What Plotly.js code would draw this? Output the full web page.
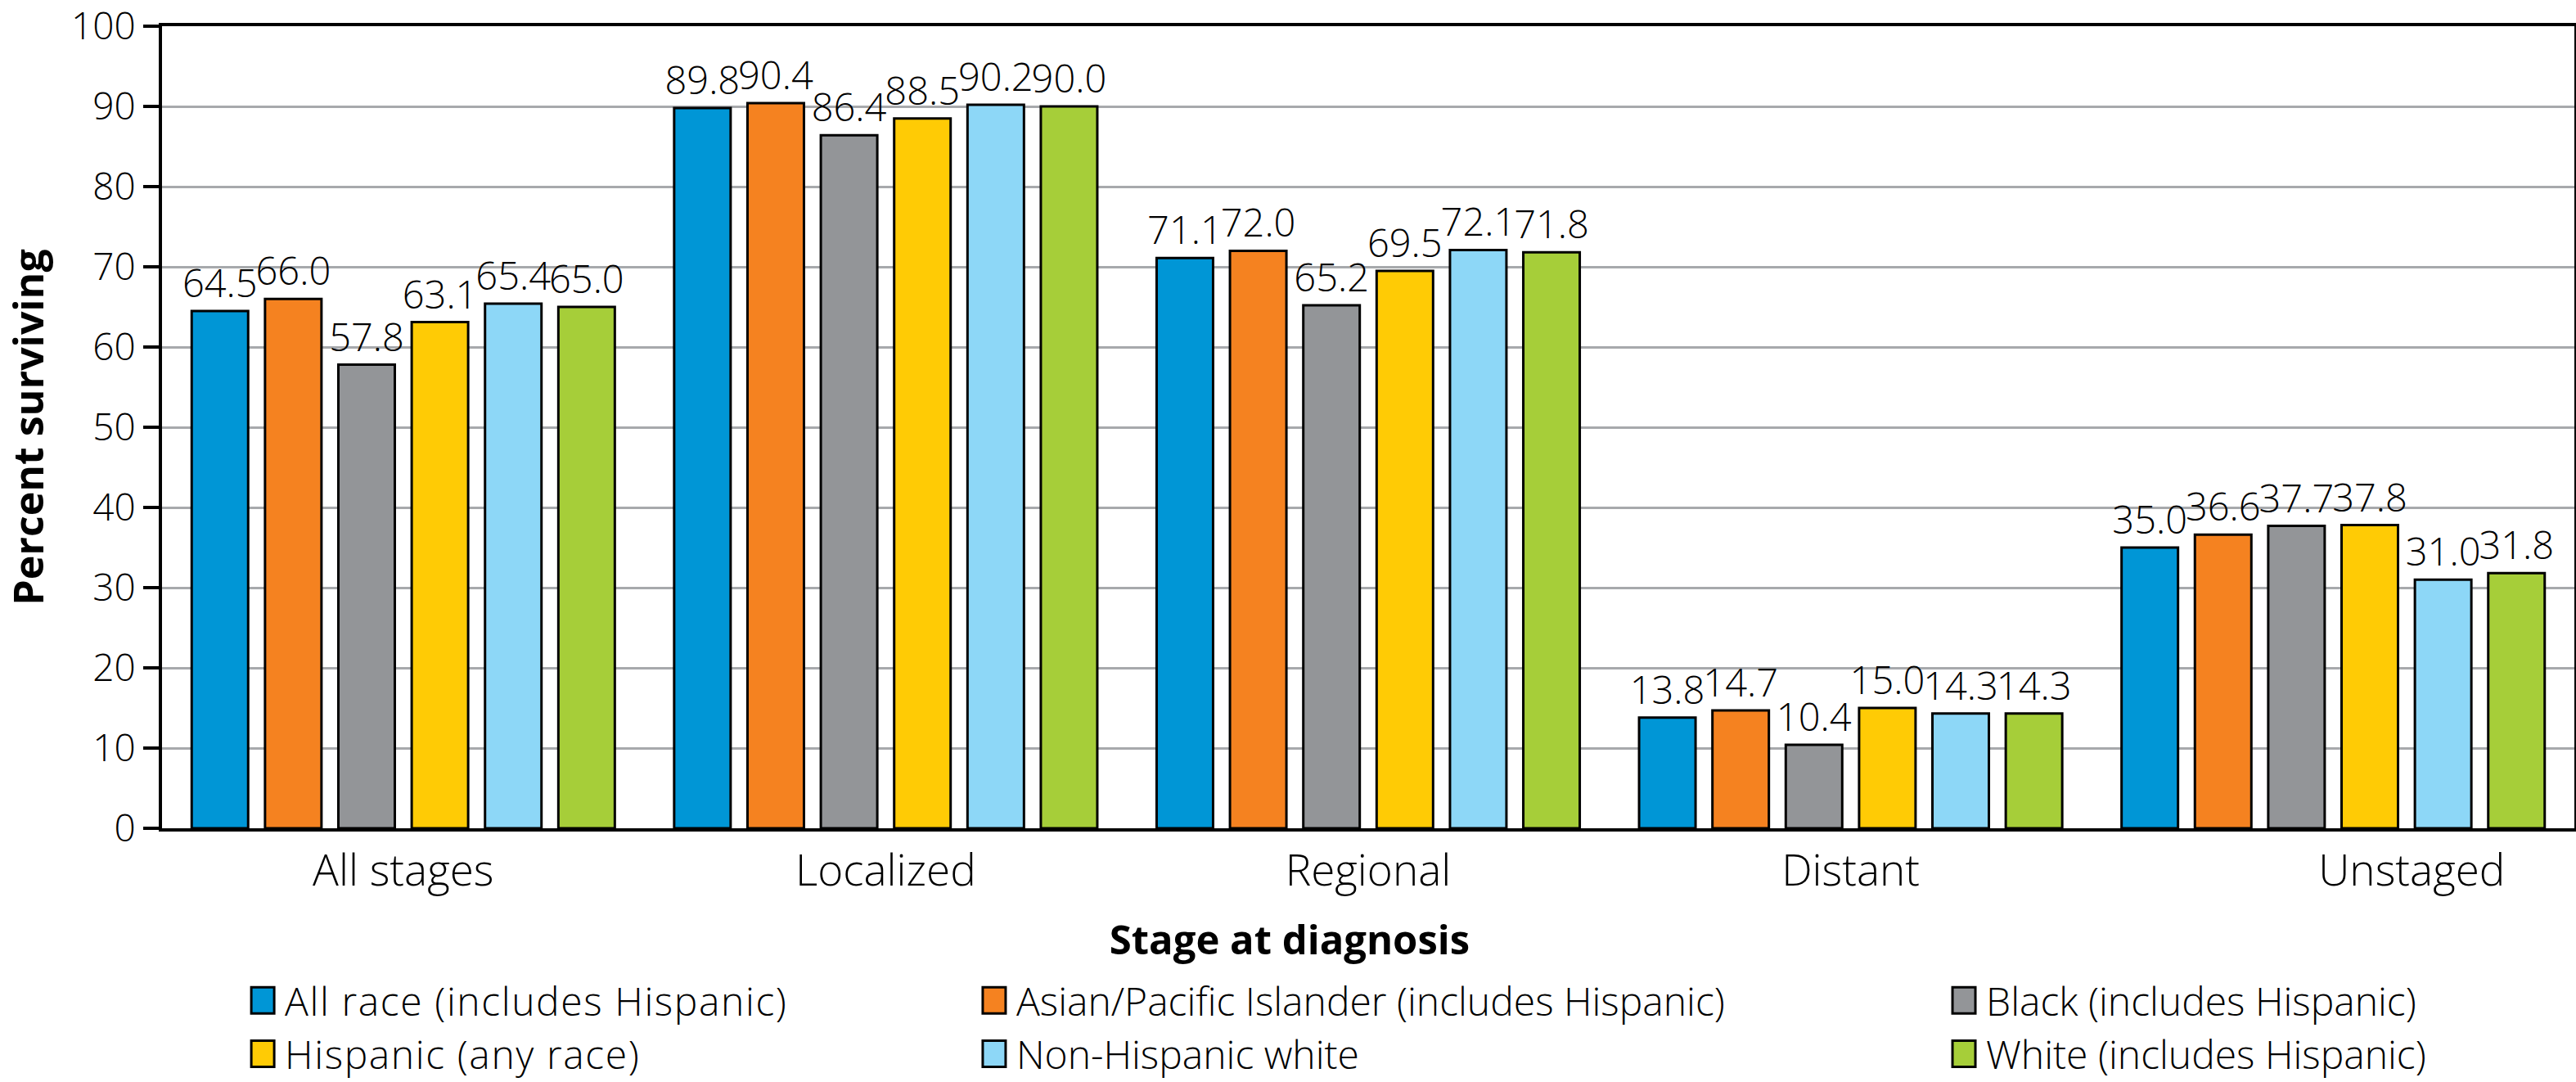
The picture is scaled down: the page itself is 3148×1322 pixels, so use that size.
<!DOCTYPE html>
<html>
<head>
<meta charset="utf-8">
<script src="https://cdn.plot.ly/plotly-3.0.1.min.js"></script>
<style>html,body{margin:0;padding:0;background:#fff;}#chart{width:3148px;height:1322px;}</style>
</head>
<body>
<div id="chart"></div>
<script>
const stages = ['All stages', 'Localized', 'Regional', 'Distant', 'Unstaged'];
const seriesNames = [
  'All race (includes Hispanic)',
  'Asian/Pacific Islander (includes Hispanic)',
  'Black (includes Hispanic)',
  'Hispanic (any race)',
  'Non-Hispanic white',
  'White (includes Hispanic)'
];
const allRace  = [64.5, 89.8, 71.1, 13.8, 35.0];
const asianPI  = [66.0, 90.4, 72.0, 14.7, 36.6];
const black    = [57.8, 86.4, 65.2, 10.4, 37.7];
const hispanic = [63.1, 88.5, 69.5, 15.0, 37.8];
const nhWhite  = [65.4, 90.2, 72.1, 14.3, 31.0];
const white    = [65.0, 90.0, 71.8, 14.3, 31.8];
const yTicks = [0, 10, 20, 30, 40, 50, 60, 70, 80, 90, 100];

const seriesValues = [allRace, asianPI, black, hispanic, nhWhite, white];
const colors = ['#0096D6', '#F58220', '#939598', '#FFCB05', '#8DD7F7', '#A6CE39'];
const legendIds = ['legend', 'legend2', 'legend3', 'legend', 'legend2', 'legend3'];

const FONT = '"Open Sans", Lato, sans-serif';
const xIdx = stages.map((_, i) => i);

const traces = seriesValues.map((vals, k) => ({
  type: 'bar',
  name: seriesNames[k],
  x: xIdx,
  y: vals,
  legend: legendIds[k],
  marker: { color: colors[k], line: { color: '#000', width: 3 } },
  texttemplate: '%{y:.1f}',
  textposition: 'outside',
  constraintext: 'none',
  cliponaxis: false,
  textfont: { family: FONT, size: 47, color: '#000', weight: 300 },
  hoverinfo: 'skip'
}));

const legendCommon = {
  orientation: 'v',
  xanchor: 'left',
  yanchor: 'top',
  y: -0.176,
  bgcolor: 'rgba(0,0,0,0)',
  font: { family: FONT, size: 48, color: '#000', weight: 300 },
  itemwidth: 44,
  tracegroupgap: 0
};

const layout = {
  width: 3148,
  height: 1322,
  margin: { l: 198, r: 2, t: 32, b: 310, autoexpand: false },
  paper_bgcolor: '#fff',
  plot_bgcolor: '#fff',
  barmode: 'group',
  bargap: 0.088,
  bargroupgap: 0.23,
  showlegend: true,
  legend: Object.assign({}, legendCommon, { x: 0.0326 }),
  legend2: Object.assign({}, legendCommon, { x: 0.3358 }),
  legend3: Object.assign({}, legendCommon, { x: 0.7378 }),
  xaxis: {
    type: 'linear',
    range: [-0.5, 4.5],
    tickmode: 'array',
    tickvals: [0, 1, 2, 3, 4.163],
    ticktext: stages,
    ticks: '',
    ticklabelstandoff: 2,
    showgrid: false,
    zeroline: false,
    showline: true,
    linecolor: '#000',
    linewidth: 4,
    mirror: true,
    automargin: false,
    tickfont: { family: FONT, size: 53, color: '#000', weight: 300 },
    title: {
      text: 'Stage at diagnosis',
      font: { family: FONT, size: 49, color: '#000', weight: 700 },
      standoff: 36
    }
  },
  yaxis: {
    range: [0, 100],
    tickmode: 'array',
    tickvals: yTicks,
    ticks: 'outside',
    ticklen: 19,
    tickwidth: 4,
    tickcolor: '#000',
    ticklabeloverflow: 'allow',
    showgrid: true,
    gridcolor: '#A7A9AC',
    gridwidth: 3,
    zeroline: false,
    showline: true,
    linecolor: '#000',
    linewidth: 4,
    mirror: true,
    automargin: false,
    tickfont: { family: FONT, size: 46, color: '#000', weight: 300 },
    title: {
      text: 'Percent surviving',
      font: { family: FONT, size: 50, color: '#000', weight: 700 },
      standoff: 42
    }
  }
};

Plotly.newPlot('chart', traces, layout, { staticPlot: true, displayModeBar: false }).then(() => {
  document.querySelectorAll('.legendpoints path').forEach(p => {
    p.setAttribute('d', 'M14,16H-14V-16H14Z');
    p.style.strokeWidth = '3px';
    p.style.stroke = '#000';
  });
  document.querySelectorAll('.legendtext').forEach(t => {
    t.style.letterSpacing = '1.6px';
  });
  // widen the legend clip boxes so the spaced text is not cut
  document.querySelectorAll('clipPath[id^="legend"] rect').forEach(r => {
    r.setAttribute('width', 1400);
  });
  const xt = document.querySelector('.g-xtitle text');
  if (xt) {
    const x0 = parseFloat(xt.getAttribute('x'));
    xt.setAttribute('x', x0 - 96);
  }
});
</script>
</body>
</html>
